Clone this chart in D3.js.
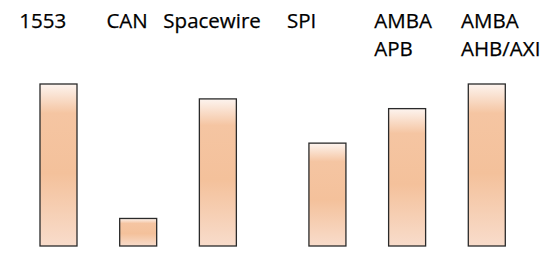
<!DOCTYPE html>
<html>
<head>
<meta charset="utf-8">
<script src="https://cdn.jsdelivr.net/npm/d3@7"></script>
<style>
  html, body { margin: 0; padding: 0; background: #ffffff; }
  svg { display: block; }
</style>
</head>
<body>
<svg id="chart" width="550" height="257"></svg>
<script>
// ---- data ----
const categories = ["1553", "CAN", "Spacewire", "SPI", "AMBA APB", "AMBA AHB/AXI"];
const values = [10.0, 1.7, 9.08, 6.35, 8.48, 10.0];
const labelLines = [["1553"], ["CAN"], ["Spacewire"], ["SPI"], ["AMBA", "APB"], ["AMBA", "AHB/AXI"]];

// ---- layout (not data) ----
const W = 550, H = 257;
const baseline = 246;
const barW = 37;
const groupGapAfter = 2;      // extra space after the 3rd bar
const groupGap = 0.375;       // in units of bar step
const labelDx = [-39.2, -31.8, -54.5, -40.5, -32.8, -25.8]; // label left edge relative to bar centre
const lineBase = [28, 55.5];

const svg = d3.select("#chart");

const defs = svg.append("defs");
const grad = defs.append("linearGradient")
  .attr("id", "barGrad").attr("x1", 0).attr("y1", 0).attr("x2", 0).attr("y2", 1);
[
  ["0%", "#fdf4ef"],
  ["18%", "#f5c5a2"],
  ["55%", "#f4c19b"],
  ["100%", "#f8dccb"]
].forEach(([o, c]) => grad.append("stop").attr("offset", o).attr("stop-color", c));

const slot = categories.map((c, i) => i + (i > groupGapAfter ? groupGap : 0));
const x = d3.scaleLinear()
  .domain([0, d3.max(slot)])
  .range([58.5, 486.8]);
const y = d3.scaleLinear()
  .domain([0, 10])
  .range([baseline, baseline - 162]);

svg.append("g").selectAll("rect")
  .data(values)
  .join("rect")
  .attr("x", (d, i) => x(slot[i]) - barW / 2)
  .attr("y", d => y(d))
  .attr("width", barW)
  .attr("height", d => y(0) - y(d))
  .attr("fill", "url(#barGrad)")
  .attr("stroke", "#2a2a2a")
  .attr("stroke-width", 1.3);

const lab = svg.append("g")
  .attr("font-family", "'Open Sans', 'Noto Sans', sans-serif")
  .attr("font-size", 20.5)
  .attr("fill", "#000000")
  .attr("stroke", "#000000")
  .attr("stroke-width", 0.25);

labelLines.forEach((lines, i) => {
  lines.forEach((t, j) => {
    lab.append("text")
      .attr("x", x(slot[i]) + labelDx[i])
      .attr("y", lineBase[j])
      .text(t);
  });
});
</script>
</body>
</html>
